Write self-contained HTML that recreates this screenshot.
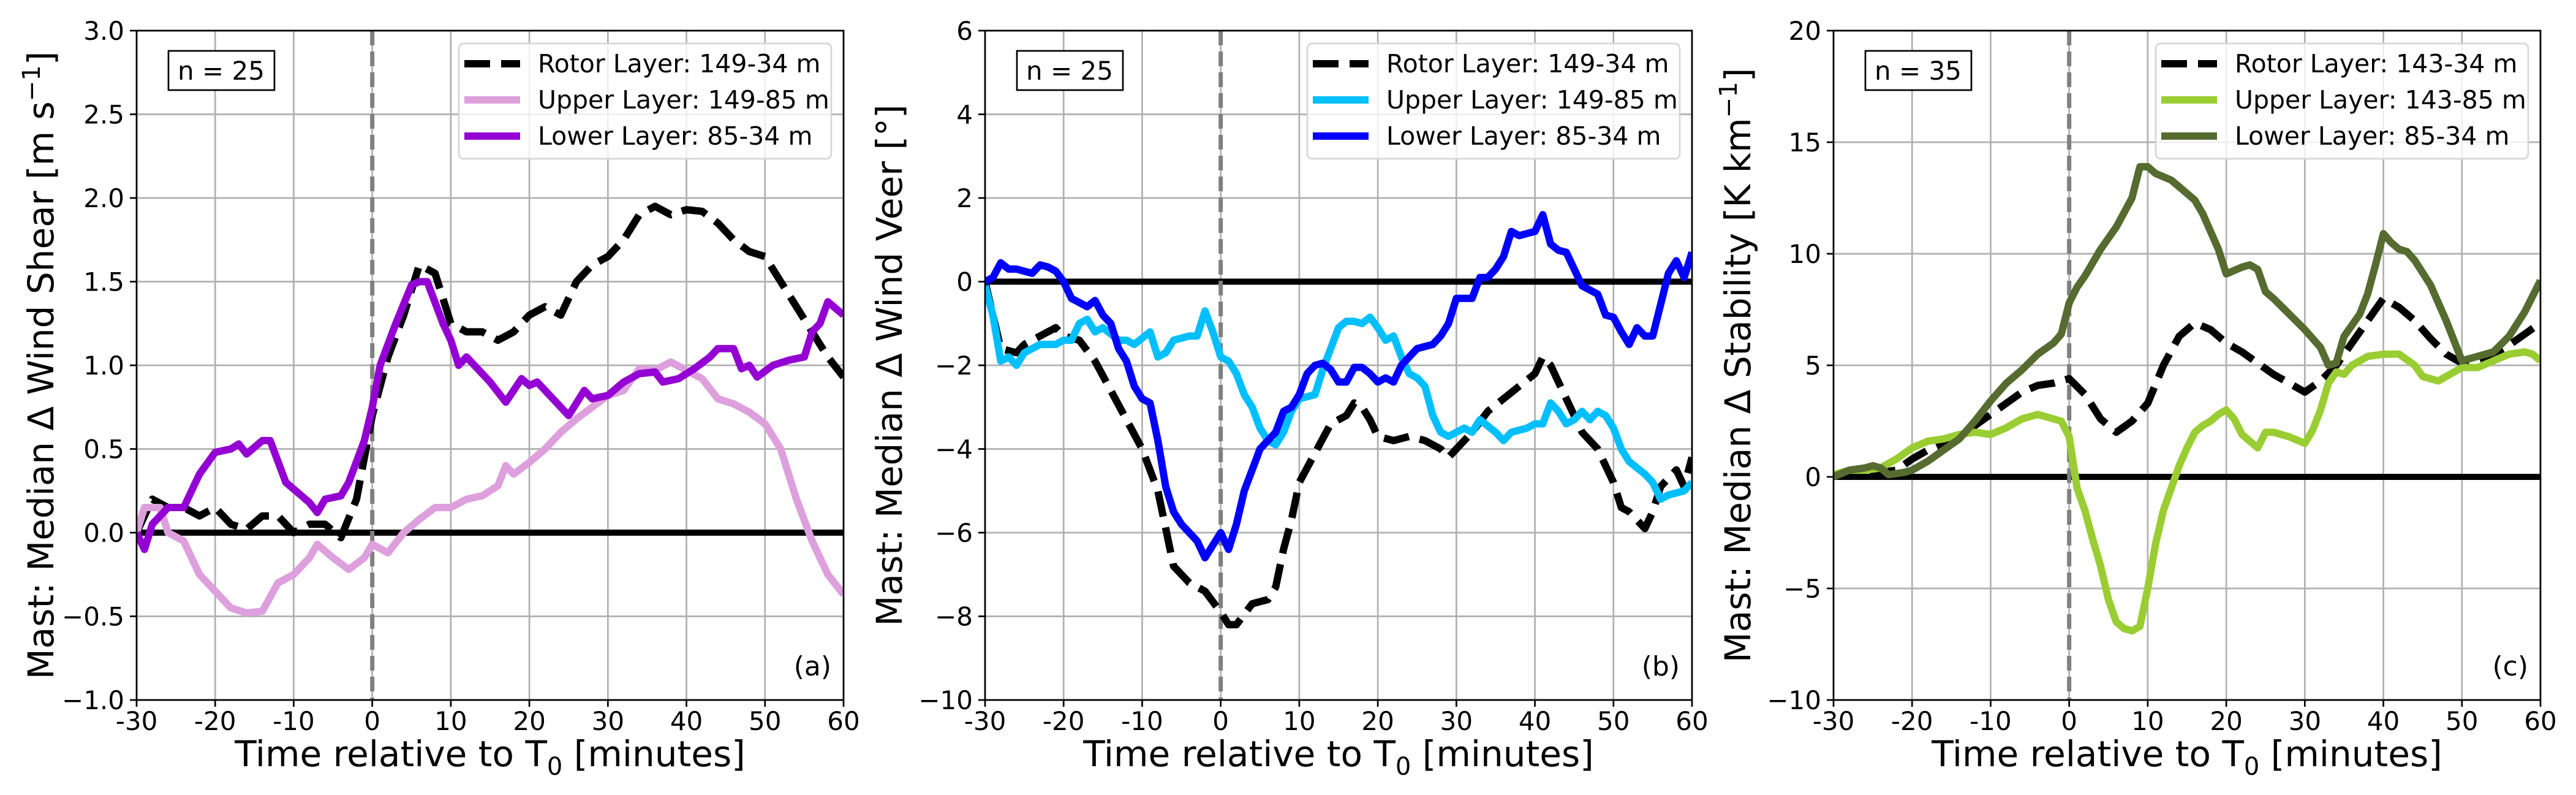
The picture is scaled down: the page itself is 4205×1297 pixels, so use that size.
<!DOCTYPE html>
<html><head><meta charset="utf-8"><style>
html,body{margin:0;padding:0;background:#fff;}
svg{display:block;font-family:"DejaVu Sans","Liberation Sans",sans-serif;}
</style></head><body>
<svg id="fig" width="4205" height="1297" viewBox="0 0 4205 1297" xmlns="http://www.w3.org/2000/svg"></svg>
<script>
// ---------- Panel (a) data: wind shear ----------
const aRotorT = [-30,-28,-26,-24,-22,-20,-18,-16,-14,-12,-10,-8,-6,-4,-2,0,2,4,6,8,10,12,14,16,18,20,22,24,26,28,30,32,34,36,38,40,42,44,46,48,50,52,54,56,58,60];
const aRotorV = [0.0,0.2,0.15,0.15,0.1,0.15,0.05,0.02,0.1,0.1,0.0,0.05,0.05,-0.03,0.2,0.7,1.05,1.3,1.6,1.55,1.25,1.2,1.2,1.15,1.2,1.3,1.35,1.3,1.5,1.6,1.65,1.75,1.9,1.95,1.9,1.93,1.92,1.85,1.75,1.68,1.65,1.5,1.35,1.2,1.05,0.93];
const aUpperT = [-30,-29,-27,-26,-24,-22,-20,-18,-16,-14,-12,-10,-8,-7,-5,-3,-1,0,2,4,6,8,10,12,14,16,17,18,20,22,24,26,28,30,32,34,36,38,40,42,44,46,48,50,52,54,56,58,60];
const aUpperV = [0.0,0.15,0.15,0.0,-0.05,-0.25,-0.35,-0.45,-0.48,-0.47,-0.3,-0.25,-0.15,-0.07,-0.15,-0.22,-0.15,-0.07,-0.12,0.0,0.08,0.15,0.15,0.2,0.22,0.28,0.4,0.35,0.42,0.5,0.6,0.68,0.75,0.82,0.85,0.98,0.97,1.02,0.97,0.92,0.8,0.77,0.72,0.65,0.5,0.2,-0.05,-0.25,-0.37];
const aLowerT = [-30,-29,-28,-26,-24,-22,-20,-18,-17,-16,-14,-13,-11,-9,-8,-7,-6,-4,-3,-1,0,1,3,5,6,7,9,10,11,12,14,15,17,19,20,21,23,25,27,28,30,32,34,36,37,39,41,43,44,46,47,48,49,51,53,55,56,57,58,60];
const aLowerV = [0.0,-0.1,0.05,0.15,0.15,0.35,0.48,0.5,0.53,0.47,0.55,0.55,0.3,0.22,0.18,0.12,0.2,0.22,0.3,0.55,0.75,1.0,1.25,1.48,1.5,1.5,1.25,1.15,1.0,1.05,0.95,0.9,0.78,0.92,0.88,0.9,0.8,0.7,0.85,0.8,0.82,0.9,0.95,0.96,0.9,0.92,0.98,1.05,1.1,1.1,0.98,1.0,0.93,1.0,1.03,1.05,1.2,1.25,1.38,1.3];
const aYTicks = [-1.0,-0.5,0.0,0.5,1.0,1.5,2.0,2.5,3.0];
const aYLabels = ["\u22121.0","\u22120.5","0.0","0.5","1.0","1.5","2.0","2.5","3.0"];

// ---------- Panel (b) data: wind veer ----------
const bRotorT = [-30,-28,-26,-25,-23,-21,-20,-18,-16,-14,-12,-10,-8,-6,-4,-2,0,1,2,4,6,7,8,9,10,12,14,16,17,18,19,20,22,24,26,28,29,30,32,34,36,38,40,41,42,44,46,48,50,51,52,54,55,56,58,59,60];
const bRotorV = [0,-1.6,-1.7,-1.5,-1.3,-1.1,-1.3,-1.4,-1.9,-2.6,-3.3,-4.0,-5.0,-6.8,-7.2,-7.4,-7.9,-8.2,-8.2,-7.7,-7.6,-7.3,-6.4,-5.7,-4.8,-4.1,-3.4,-3.2,-2.9,-3.0,-3.3,-3.7,-3.8,-3.7,-3.8,-4.0,-4.2,-4.0,-3.6,-3.1,-2.8,-2.5,-2.2,-1.8,-2.0,-2.8,-3.6,-4.0,-4.8,-5.4,-5.5,-5.9,-5.5,-4.9,-4.5,-4.9,-4.2];
const bUpperT = [-30,-29,-28,-27,-26,-25,-23,-21,-20,-19,-18,-17,-16,-15,-13,-12,-11,-9,-8,-7,-6,-4,-3,-2,-1,0,1,2,3,4,5,6,7,8,9,10,12,13,15,16,17,18,19,20,21,22,23,24,25,26,27,28,29,30,31,32,33,35,36,37,39,40,41,42,43,44,45,46,47,48,49,50,51,52,54,55,56,57,59,60];
const bUpperV = [-0.1,-0.8,-1.9,-1.8,-2.0,-1.7,-1.5,-1.5,-1.4,-1.4,-1.0,-0.9,-1.2,-1.1,-1.4,-1.4,-1.5,-1.2,-1.8,-1.7,-1.4,-1.3,-1.3,-0.7,-1.2,-1.8,-1.9,-2.2,-2.7,-3.0,-3.5,-3.8,-3.9,-3.6,-3.1,-2.8,-2.7,-2.1,-1.1,-0.95,-0.95,-1.0,-0.85,-1.1,-1.4,-1.3,-1.8,-2.2,-2.3,-2.5,-3.2,-3.6,-3.7,-3.6,-3.5,-3.6,-3.3,-3.6,-3.8,-3.6,-3.5,-3.4,-3.4,-2.9,-3.1,-3.4,-3.3,-3.1,-3.3,-3.1,-3.2,-3.5,-4.0,-4.3,-4.6,-4.8,-5.2,-5.1,-5.0,-4.8];
const bLowerT = [-30,-29,-28,-27,-26,-24,-23,-22,-21,-20,-19,-18,-17,-16,-15,-14,-13,-12,-11,-10,-9,-8,-7,-6,-5,-4,-3,-2,-1,0,1,2,3,4,5,6,7,8,9,10,11,12,13,14,15,16,17,18,19,20,21,22,23,24,25,26,27,28,29,30,31,32,33,34,35,36,37,38,39,40,41,42,43,44,45,46,47,48,49,50,51,52,53,54,55,56,57,58,59,60];
const bLowerV = [0.0,0.1,0.45,0.3,0.3,0.2,0.4,0.35,0.25,0.0,-0.4,-0.5,-0.6,-0.45,-0.8,-1.0,-1.6,-1.9,-2.5,-2.8,-2.9,-3.8,-4.9,-5.5,-5.8,-6.0,-6.2,-6.6,-6.3,-6.0,-6.4,-5.8,-5.0,-4.5,-4.0,-3.8,-3.6,-3.1,-3.0,-2.7,-2.2,-2.0,-1.95,-2.1,-2.4,-2.4,-2.05,-2.05,-2.2,-2.4,-2.3,-2.4,-2.0,-1.8,-1.6,-1.55,-1.5,-1.3,-1.0,-0.4,-0.4,-0.4,0.1,0.1,0.3,0.6,1.2,1.1,1.15,1.2,1.6,0.9,0.75,0.7,0.3,-0.1,-0.2,-0.3,-0.8,-0.85,-1.2,-1.5,-1.1,-1.3,-1.3,-0.55,0.2,0.5,0.1,0.7];
const bYTicks = [-10,-8,-6,-4,-2,0,2,4,6];
const bYLabels = ["\u221210","\u22128","\u22126","\u22124","\u22122","0","2","4","6"];

// ---------- Panel (c) data: stability ----------
const cRotorT = [-30,-28,-26,-24,-22,-20,-18,-16,-14,-12,-10,-8,-6,-4,-2,0,2,4,6,8,10,12,14,16,18,20,22,24,26,28,30,32,34,36,38,40,42,44,46,48,50,52,54,56,58,60];
const cRotorV = [0.1,0.2,0.3,0.2,0.3,0.8,1.2,1.5,1.8,2.3,2.8,3.3,3.8,4.1,4.2,4.4,3.7,2.6,2.0,2.5,3.3,5.0,6.3,6.9,6.6,6.0,5.6,5.1,4.6,4.2,3.8,4.3,5.0,6.0,7.0,8.0,7.6,7.0,6.2,5.5,5.1,5.2,5.5,5.9,6.4,6.9];
const cUpperT = [-30,-28,-26,-24,-22,-20,-18,-16,-14,-12,-10,-8,-6,-4,-2,-1,0,1,2,3,4,5,6,7,8,9,10,11,12,13,14,15,16,17,18,19,20,21,22,24,25,26,28,30,31,32,33,34,35,36,38,40,42,44,45,47,48,50,52,54,56,58,59,60];
const cUpperV = [0.1,0.3,0.3,0.4,0.8,1.3,1.6,1.7,1.9,2.0,1.9,2.2,2.6,2.8,2.6,2.5,1.8,-0.5,-1.5,-2.8,-4.0,-5.5,-6.5,-6.8,-6.9,-6.7,-5.0,-3.0,-1.5,-0.5,0.5,1.3,2.0,2.3,2.5,2.8,3.0,2.6,1.9,1.3,2.0,2.0,1.8,1.5,2.1,3.0,4.2,4.7,4.6,5.0,5.4,5.5,5.5,5.0,4.5,4.3,4.5,4.9,4.9,5.2,5.5,5.6,5.5,5.2];
const cLowerT = [-30,-28,-26,-25,-24,-23,-21,-20,-18,-16,-14,-12,-10,-8,-6,-4,-2,-1,0,1,2,4,6,8,9,10,11,13,15,16,17,19,20,22,23,24,25,26,28,30,32,33,34,35,36,37,38,39,40,41,42,43,44,46,48,50,52,54,56,58,60];
const cLowerV = [0.0,0.3,0.4,0.5,0.4,0.1,0.2,0.3,0.7,1.2,1.7,2.5,3.4,4.2,4.8,5.5,6.0,6.4,7.8,8.5,9.0,10.2,11.2,12.5,13.9,13.9,13.6,13.3,12.7,12.4,11.8,10.2,9.1,9.4,9.5,9.3,8.3,8.0,7.3,6.6,5.8,5.0,5.1,6.3,6.8,7.3,8.2,9.5,10.9,10.5,10.2,10.1,9.7,8.6,7.0,5.2,5.4,5.6,6.3,7.4,8.8];
const cYTicks = [-10,-5,0,5,10,15,20];
const cYLabels = ["\u221210","\u22125","0","5","10","15","20"];

const xTicks = [-30,-20,-10,0,10,20,30,40,50,60];
const xLabels = ["-30","-20","-10","0","10","20","30","40","50","60"];

const NS = "http://www.w3.org/2000/svg";
const fig = document.getElementById('fig');
function mk(tag, attrs, parent){
  const e = document.createElementNS(NS, tag);
  for (const k in attrs) e.setAttribute(k, attrs[k]);
  (parent||fig).appendChild(e);
  return e;
}
const TOP=50, BOT=1142, W=1154, LW=12;

function panel(cfg){
  const L=cfg.left, R=L+W;
  const g = mk('g',{});
  
  
  const xs = t => L + (t+30)/90*W;
  const ys = v => BOT - (v-cfg.ymin)/(cfg.ymax-cfg.ymin)*(BOT-TOP);
  xTicks.forEach(t=>{ const l=mk('line',{x1:xs(t),x2:xs(t),y1:TOP,y2:BOT,stroke:'#b0b0b0','stroke-width':2.7},g);
      });
  cfg.yt.forEach(v=>{ const l=mk('line',{x1:L,x2:R,y1:ys(v),y2:ys(v),stroke:'#b0b0b0','stroke-width':2.7},g);
      });
  const z = mk('line',{x1:L,x2:R,y1:ys(0),y2:ys(0),stroke:'#000','stroke-width':10},g);
   
  const v0 = mk('line',{x1:xs(0),x2:xs(0),y1:TOP,y2:BOT,stroke:'#808080','stroke-width':7,'stroke-dasharray':'24 10'},g);
   
  const cid='clip'+cfg.tag;
  const cp=mk('clipPath',{id:cid},g); mk('rect',{x:L,y:TOP,width:W,height:BOT-TOP},cp);
  const sg = mk('g',{'clip-path':'url(#'+cid+')'},g);
  cfg.series.forEach(s=>{
    const d = s.t.map((t,i)=>(i?'L':'M')+xs(t).toFixed(1)+','+ys(s.v[i]).toFixed(1)).join('');
    const p = mk('path',{d:d,fill:'none',stroke:s.color,'stroke-width':LW,'stroke-linejoin':'round'},sg);
    if (s.dash) p.setAttribute('stroke-dasharray','42 18');
    
    
  });
  const sp = mk('rect',{x:L,y:TOP,width:W,height:BOT-TOP,fill:'none',stroke:'#000','stroke-width':2.7},g);
   
  xTicks.forEach((t,i)=>{
    mk('line',{x1:xs(t),x2:xs(t),y1:BOT,y2:BOT+11,stroke:'#000','stroke-width':2.7},g);
    const tx = mk('text',{x:xs(t),y:1191,'font-size':42,'text-anchor':'middle',fill:'#000'},g);
    tx.textContent = xLabels[i];
     
  });
  cfg.yt.forEach((v,i)=>{
    mk('line',{x1:L-11,x2:L,y1:ys(v),y2:ys(v),stroke:'#000','stroke-width':2.7},g);
    const tx = mk('text',{x:L-20,y:ys(v)+15,'font-size':42,'text-anchor':'end',fill:'#000'},g);
    tx.textContent = cfg.yl[i];
     
  });
  const xl = mk('text',{x:L+W/2,y:1250,'font-size':58,'text-anchor':'middle',fill:'#000'},g);
   
  xl.innerHTML = 'Time relative to T<tspan font-size="40" dy="14">0</tspan><tspan dy="-14"> [minutes]</tspan>';
  const yl = mk('text',{x:0,y:0,'font-size':58,'text-anchor':'middle',fill:'#000',transform:'translate('+(L-136)+','+((TOP+BOT)/2)+') rotate(-90)'},g);
   
  yl.innerHTML = cfg.ylabel;
  const nb = mk('rect',{x:L+52,y:83,width:173,height:64,fill:'#fff',stroke:'#000','stroke-width':2.7},g);
   
  const nt = mk('text',{x:L+138,y:130,'font-size':42,'text-anchor':'middle',fill:'#000'},g);
  nt.textContent = cfg.n;
   
  const pl = mk('text',{x:R-20,y:1102,'font-size':44,'text-anchor':'end',fill:'#000'},g);
  pl.textContent = cfg.letter;
   
  const lx = R-628, ly=71;
  const lg = mk('g',{},g);
   
  mk('rect',{x:lx,y:ly,width:608,height:188,rx:8,fill:'#fff','fill-opacity':0.8,stroke:'#d6d6d6','stroke-width':2.7},lg);
  cfg.series.forEach((s,i)=>{
    const cy = 104 + i*59;
    const e = mk('g',{},lg);
     
    const h = mk('line',{x1:lx+9,x2:lx+100,y1:cy,y2:cy,stroke:s.color,'stroke-width':LW},e);
    if (s.dash) h.setAttribute('stroke-dasharray','42 18');
    const t = mk('text',{x:lx+129,y:cy+14,'font-size':41,fill:'#000'},e);
    t.textContent = s.label;
  });
}

panel({tag:'a',name:'panel-a-wind-shear',left:223,ymin:-1,ymax:3,yt:aYTicks,yl:aYLabels,n:'n = 25',letter:'(a)',
  ylabel:'Mast: Median \u0394 Wind Shear [m s<tspan font-size="40" dy="-22">\u22121</tspan><tspan dy="22">]</tspan>',
  series:[
    {id:'rotor-layer-line',t:aRotorT,v:aRotorV,color:'#000',dash:true,label:'Rotor Layer: 149-34 m'},
    {id:'upper-layer-line',t:aUpperT,v:aUpperV,color:'#dda0dd',label:'Upper Layer: 149-85 m'},
    {id:'lower-layer-line',t:aLowerT,v:aLowerV,color:'#9400d3',label:'Lower Layer: 85-34 m'}]});
panel({tag:'b',name:'panel-b-wind-veer',left:1608,ymin:-10,ymax:6,yt:bYTicks,yl:bYLabels,n:'n = 25',letter:'(b)',
  ylabel:'Mast: Median \u0394 Wind Veer [\u00b0]',
  series:[
    {id:'rotor-layer-line',t:bRotorT,v:bRotorV,color:'#000',dash:true,label:'Rotor Layer: 149-34 m'},
    {id:'upper-layer-line',t:bUpperT,v:bUpperV,color:'#00bfff',label:'Upper Layer: 149-85 m'},
    {id:'lower-layer-line',t:bLowerT,v:bLowerV,color:'#0000ff',label:'Lower Layer: 85-34 m'}]});
panel({tag:'c',name:'panel-c-stability',left:2993,ymin:-10,ymax:20,yt:cYTicks,yl:cYLabels,n:'n = 35',letter:'(c)',
  ylabel:'Mast: Median \u0394 Stability [K km<tspan font-size="40" dy="-22">\u22121</tspan><tspan dy="22">]</tspan>',
  series:[
    {id:'rotor-layer-line',t:cRotorT,v:cRotorV,color:'#000',dash:true,label:'Rotor Layer: 143-34 m'},
    {id:'upper-layer-line',t:cUpperT,v:cUpperV,color:'#9acd32',label:'Upper Layer: 143-85 m'},
    {id:'lower-layer-line',t:cLowerT,v:cLowerV,color:'#556b2f',label:'Lower Layer: 85-34 m'}]});
</script>
</body></html>
